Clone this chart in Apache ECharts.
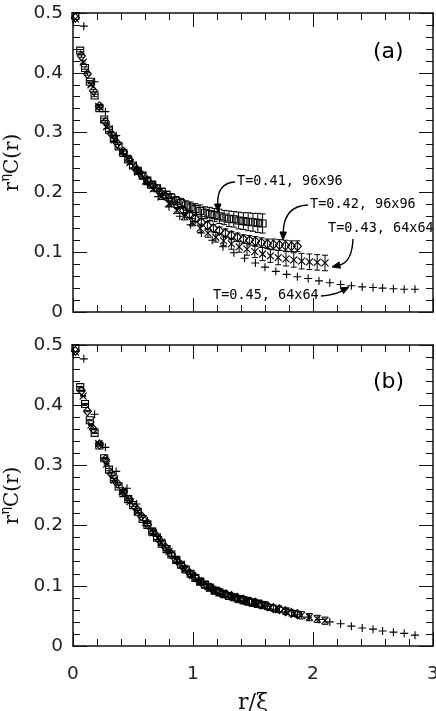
<!DOCTYPE html>
<html><head><meta charset="utf-8">
<script src="https://cdn.jsdelivr.net/npm/echarts@6/dist/echarts.min.js"></script>
<style>html,body{margin:0;padding:0;background:#fff}#c{width:436px;height:711px}</style>
</head><body><div id="c"></div>
<script>
// ---- data ----
const xTickLabels = ['0','1','2','3'];
const yTickLabels = ['0','0.1','0.2','0.3','0.4','0.5'];
const seriesNames = ['T=0.41, 96x96','T=0.42, 96x96','T=0.43, 64x64','T=0.45, 64x64'];

// squares: T=0.41, 96x96
const sqX = [0.02,0.06,0.10,0.14,0.18,0.22,0.26,0.30,0.34,0.38,0.42,0.46,0.50,0.54,0.58,0.62,0.66,0.70,0.74,0.78,0.82,0.86,0.90,0.94,0.98,1.02,1.06,1.10,1.14,1.18,1.22,1.26,1.30,1.34,1.38,1.42,1.46,1.50,1.54,1.58];
const sqTopY = [0.495,0.437,0.408,0.385,0.362,0.341,0.322,0.305,0.290,0.277,0.266,0.255,0.245,0.236,0.228,0.220,0.213,0.207,0.201,0.196,0.191,0.186,0.182,0.178,0.175,0.172,0.169,0.166,0.164,0.162,0.160,0.158,0.156,0.155,0.153,0.152,0.151,0.150,0.149,0.148];
const sqTopErr = [0,0.002,0.002,0.002,0.002,0.002,0.002,0.003,0.003,0.003,0.003,0.003,0.004,0.004,0.004,0.005,0.005,0.005,0.006,0.006,0.007,0.007,0.008,0.008,0.009,0.009,0.010,0.010,0.011,0.011,0.012,0.012,0.013,0.013,0.014,0.014,0.015,0.015,0.016,0.016];
const sqBotY = [0.495,0.430,0.402,0.375,0.354,0.333,0.312,0.293,0.277,0.265,0.254,0.244,0.234,0.223,0.211,0.201,0.190,0.180,0.170,0.161,0.152,0.143,0.135,0.127,0.120,0.113,0.107,0.102,0.097,0.092,0.089,0.086,0.083,0.081,0.078,0.076,0.074,0.072,0.070,0.068];
const sqBotErr = [0,0.001,0.001,0.001,0.001,0.001,0.001,0.002,0.002,0.002,0.002,0.002,0.002,0.002,0.003,0.003,0.003,0.003,0.003,0.003,0.003,0.004,0.004,0.004,0.004,0.004,0.004,0.005,0.005,0.005,0.005,0.005,0.005,0.005,0.006,0.006,0.006,0.006,0.006,0.006];

// diamonds: T=0.42, 96x96
const dmX = [0.02,0.07,0.12,0.17,0.22,0.27,0.32,0.37,0.42,0.47,0.52,0.57,0.62,0.67,0.72,0.77,0.82,0.87,0.92,0.97,1.02,1.07,1.12,1.17,1.22,1.27,1.32,1.37,1.42,1.47,1.52,1.57,1.62,1.67,1.72,1.77,1.82,1.87];
const dmTopY = [0.492,0.428,0.398,0.370,0.344,0.318,0.298,0.282,0.268,0.254,0.241,0.230,0.220,0.211,0.202,0.194,0.186,0.178,0.170,0.163,0.156,0.150,0.145,0.140,0.136,0.132,0.128,0.125,0.122,0.120,0.118,0.116,0.114,0.113,0.112,0.111,0.110,0.110];
const dmTopErr = [0,0.002,0.002,0.002,0.002,0.002,0.002,0.002,0.003,0.003,0.003,0.003,0.003,0.004,0.004,0.004,0.004,0.005,0.005,0.005,0.005,0.006,0.006,0.006,0.006,0.007,0.007,0.007,0.007,0.008,0.008,0.008,0.008,0.009,0.009,0.009,0.009,0.009];
const dmBotY = [0.490,0.424,0.390,0.360,0.335,0.310,0.286,0.270,0.256,0.243,0.230,0.216,0.202,0.189,0.176,0.164,0.152,0.141,0.131,0.122,0.114,0.106,0.100,0.094,0.090,0.086,0.083,0.080,0.077,0.074,0.072,0.069,0.066,0.063,0.061,0.058,0.055,0.053];
const dmBotErr = [0,0.001,0.001,0.001,0.001,0.001,0.002,0.002,0.002,0.002,0.002,0.002,0.002,0.003,0.003,0.003,0.003,0.003,0.003,0.003,0.004,0.004,0.004,0.004,0.004,0.004,0.004,0.004,0.005,0.005,0.005,0.005,0.005,0.005,0.005,0.005,0.005,0.005];

// crosses: T=0.43, 64x64
const crX = [0.02,0.085,0.15,0.215,0.28,0.345,0.41,0.475,0.54,0.605,0.67,0.735,0.80,0.865,0.93,0.995,1.06,1.125,1.19,1.255,1.32,1.385,1.45,1.515,1.58,1.645,1.71,1.775,1.84,1.905,1.97,2.035,2.10];
const crTopY = [0.490,0.418,0.380,0.344,0.310,0.288,0.268,0.250,0.234,0.219,0.206,0.193,0.181,0.170,0.160,0.150,0.140,0.132,0.125,0.119,0.114,0.109,0.105,0.101,0.097,0.094,0.091,0.089,0.087,0.085,0.084,0.083,0.082];
const crTopErr = [0,0.002,0.002,0.002,0.003,0.003,0.003,0.003,0.004,0.004,0.004,0.005,0.005,0.005,0.006,0.006,0.007,0.007,0.008,0.008,0.009,0.009,0.010,0.010,0.011,0.011,0.012,0.012,0.012,0.013,0.013,0.013,0.013];
const crBotY = [0.488,0.415,0.367,0.336,0.302,0.276,0.257,0.240,0.223,0.205,0.188,0.172,0.157,0.142,0.128,0.117,0.107,0.099,0.092,0.087,0.082,0.078,0.075,0.071,0.068,0.064,0.061,0.058,0.054,0.051,0.048,0.045,0.042];
const crBotErr = [0,0.001,0.001,0.001,0.001,0.002,0.002,0.002,0.002,0.002,0.003,0.003,0.003,0.003,0.003,0.004,0.004,0.004,0.004,0.004,0.004,0.005,0.005,0.005,0.005,0.005,0.005,0.005,0.005,0.006,0.006,0.006,0.006];

// plus: T=0.45, 64x64
const plX = [0.09,0.18,0.27,0.36,0.45,0.53,0.62,0.71,0.80,0.89,0.98,1.07,1.16,1.25,1.34,1.43,1.52,1.60,1.69,1.78,1.87,1.96,2.05,2.14,2.23,2.32,2.41,2.50,2.58,2.67,2.76,2.85];
const plTopY = [0.478,0.385,0.335,0.295,0.262,0.236,0.213,0.193,0.176,0.160,0.146,0.132,0.120,0.109,0.099,0.090,0.082,0.075,0.068,0.063,0.059,0.056,0.052,0.049,0.046,0.044,0.042,0.041,0.040,0.039,0.038,0.038];
const plBotY = [0.477,0.385,0.330,0.290,0.262,0.236,0.208,0.182,0.158,0.137,0.119,0.105,0.094,0.086,0.080,0.075,0.071,0.066,0.061,0.057,0.052,0.048,0.044,0.040,0.037,0.033,0.030,0.028,0.025,0.023,0.021,0.018];

// ---- chart ----
const chart = echarts.init(document.getElementById('c'), null, {renderer:'canvas'});
const INK = '#111';
const tickFont = {fontFamily:'DejaVu Sans', fontSize:18.5, color:'#222'};

function xAxes(g, showLabels){
  const base = {gridIndex:g, type:'value', min:0, max:3, interval:1,
    axisLine:{show:true, onZero:false, lineStyle:{color:INK, width:1.5}},
    axisTick:{show:true, inside:true, length:14, lineStyle:{color:INK, width:1}},
    minorTick:{show:true, splitNumber:5, length:7, lineStyle:{color:INK, width:1}},
    splitLine:{show:false}, minorSplitLine:{show:false}};
  const bottom = Object.assign({}, base, {position:'bottom',
    axisLabel:{show:showLabels, margin:19, ...tickFont,
      formatter:(v)=>xTickLabels[Math.round(v)]}});
  if (showLabels) Object.assign(bottom, {name:'r/\u03BE', nameLocation:'middle', nameGap:46,
    nameTextStyle:{fontFamily:'DejaVu Serif', fontSize:22, color:INK}});
  const top = Object.assign({}, base, {position:'top', axisLabel:{show:false}});
  return [bottom, top];
}
function yAxes(g){
  const base = {gridIndex:g, type:'value', min:0, max:0.5, interval:0.1,
    axisLine:{show:true, onZero:false, lineStyle:{color:INK, width:1.5}},
    axisTick:{show:true, inside:true, length:14, lineStyle:{color:INK, width:1}},
    minorTick:{show:true, splitNumber:5, length:7, lineStyle:{color:INK, width:1}},
    splitLine:{show:false}, minorSplitLine:{show:false}};
  const left = Object.assign({}, base, {position:'left',
    axisLabel:{show:true, margin:10, ...tickFont, formatter:(v)=>yTickLabels[Math.round(v*10)]},
    name:'{r|r}{s|\u03B7}{r|C(r)}', nameLocation:'middle', nameGap:43, nameRotate:90,
    nameTextStyle:{color:INK, rich:{
      r:{fontFamily:'DejaVu Serif', fontSize:20, color:INK, lineHeight:24, verticalAlign:'bottom'},
      s:{fontFamily:'DejaVu Serif', fontSize:13, color:INK, lineHeight:24, verticalAlign:'top'}}}});
  const right = Object.assign({}, base, {position:'right', axisLabel:{show:false}});
  return [left, right];
}

function markSeries(g, x, y, kind){
  const sym = {
    sq:{symbol:'rect', size:7},
    dm:{symbol:'diamond', size:[8,9]},
    cr:{symbol:'path://M0,0L10,10M10,0L0,10', size:7},
    pl:{symbol:'path://M5,0L5,10M0,5L10,5', size:8}
  }[kind];
  return {type:'scatter', xAxisIndex:g*2, yAxisIndex:g*2, silent:true,
    symbol:sym.symbol, symbolSize:sym.size,
    itemStyle:{color:'transparent', borderColor:'#000', borderWidth:1.1, opacity:1},
    emphasis:{disabled:true},
    data:x.map((v,i)=>[v, y[i]])};
}
function errSeries(g, x, y, e){
  return {type:'custom', xAxisIndex:g*2, yAxisIndex:g*2, silent:true, clip:true,
    encode:{x:0, y:1},
    data:x.map((v,i)=>[v, y[i], e[i]]),
    renderItem:(params, api)=>{
      const xv=api.value(0), yv=api.value(1), ev=api.value(2);
      if(!ev) return null;
      const t=api.coord([xv, yv+ev]), b=api.coord([xv, yv-ev]);
      const w=3, st={stroke:'#000', lineWidth:1};
      return {type:'group', children:[
        {type:'line', shape:{x1:t[0],y1:t[1],x2:b[0],y2:b[1]}, style:st},
        {type:'line', shape:{x1:t[0]-w,y1:t[1],x2:t[0]+w,y2:t[1]}, style:st},
        {type:'line', shape:{x1:b[0]-w,y1:b[1],x2:b[0]+w,y2:b[1]}, style:st}
      ]};
    }};
}

// arrows & annotations (pixel-positioned decoration)
function arrow(sx,sy,cx,cy,tx,ty){
  const ang=Math.atan2(ty-cy, tx-cx), L=8, W=3.2;
  const bx=tx-Math.cos(ang)*L, by=ty-Math.sin(ang)*L;
  const px=-Math.sin(ang)*W, py=Math.cos(ang)*W;
  return [
    {type:'bezierCurve', shape:{x1:sx,y1:sy,cpx1:cx,cpy1:cy,x2:bx,y2:by},
      style:{stroke:'#000', lineWidth:1.4, fill:null}},
    {type:'polygon', shape:{points:[[tx,ty],[bx+px,by+py],[bx-px,by-py]]},
      style:{fill:'#000', stroke:'#000', lineWidth:1}}
  ];
}
const annFont = '13.5px "DejaVu Sans Mono"';
function label(text, x, y){
  return {type:'text', style:{text, x, y, font:annFont, fill:'#000', verticalAlign:'middle'}};
}

const graphics = [
  label(seriesNames[0], 237, 181),
  label(seriesNames[1], 310, 204),
  label(seriesNames[2], 328, 228),
  label(seriesNames[3], 213, 295),
  ...arrow(235,182, 217,183, 218,212),
  ...arrow(308,205, 284,206, 283,240),
  ...arrow(353,239, 352,262, 332,267),
  ...arrow(321,296, 334,295, 349,287),
  {type:'text', style:{text:'(a)', x:373, y:52, font:'22px "DejaVu Sans"', fill:'#000', verticalAlign:'middle'}},
  {type:'text', style:{text:'(b)', x:373, y:382, font:'22px "DejaVu Sans"', fill:'#000', verticalAlign:'middle'}}
];

const option = {
  animation:false,
  backgroundColor:'#fff',
  grid:[
    {left:73, right:3, top:13, height:299, outerBoundsMode:'none', containLabel:false},
    {left:73, right:3, top:345, height:301, outerBoundsMode:'none', containLabel:false}
  ],
  xAxis:[...xAxes(0,false), ...xAxes(1,true)],
  yAxis:[...yAxes(0), ...yAxes(1)],
  series:[
    errSeries(0, sqX, sqTopY, sqTopErr),
    errSeries(0, dmX, dmTopY, dmTopErr),
    errSeries(0, crX, crTopY, crTopErr),
    markSeries(0, sqX, sqTopY, 'sq'),
    markSeries(0, dmX, dmTopY, 'dm'),
    markSeries(0, crX, crTopY, 'cr'),
    markSeries(0, plX, plTopY, 'pl'),
    errSeries(1, sqX, sqBotY, sqBotErr),
    errSeries(1, dmX, dmBotY, dmBotErr),
    errSeries(1, crX, crBotY, crBotErr),
    markSeries(1, sqX, sqBotY, 'sq'),
    markSeries(1, dmX, dmBotY, 'dm'),
    markSeries(1, crX, crBotY, 'cr'),
    markSeries(1, plX, plBotY, 'pl')
  ],
  graphic:graphics
};
chart.setOption(option);
</script>
</body></html>
